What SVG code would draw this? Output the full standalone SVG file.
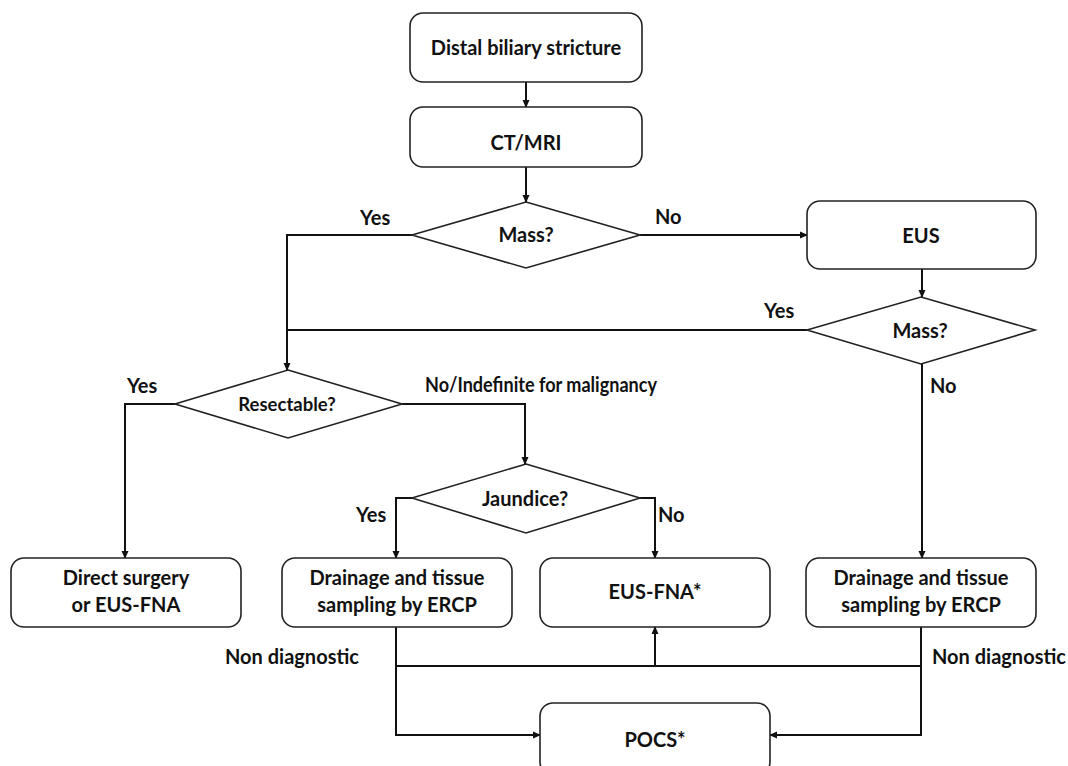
<svg xmlns="http://www.w3.org/2000/svg" width="1068" height="766" viewBox="0 0 1068 766">
<defs>
<marker id="ah" markerWidth="8" markerHeight="8" refX="7" refY="4" orient="auto" markerUnits="userSpaceOnUse">
<path d="M0,0.5 L8,4 L0,7.5 Z" fill="#111"/>
</marker>
<style>
.box{fill:#fff;stroke:#222;stroke-width:1.6}
.dia{fill:#fff;stroke:#222;stroke-width:1.6}
.ln{fill:none;stroke:#111;stroke-width:2}
.arr{fill:none;stroke:#111;stroke-width:2;marker-end:url(#ah)}
text{font-family:"Lato","Liberation Sans",sans-serif;font-weight:bold;font-size:20px;fill:#111}
.c{text-anchor:middle}
</style>
</defs>
<rect width="1068" height="766" fill="#fff"/>
<g id="connectors">
<line class="arr" x1="526" y1="82" x2="526" y2="107"/>
<line class="arr" x1="526" y1="167" x2="526" y2="202"/>
<line class="arr" x1="640" y1="235" x2="807" y2="235"/>
<polyline class="arr" points="412,235 287,235 287,370"/>
<line class="ln" x1="287" y1="330" x2="807" y2="330"/>
<line class="arr" x1="922" y1="269" x2="922" y2="297"/>
<line class="arr" x1="922" y1="364" x2="922" y2="558"/>
<polyline class="arr" points="175,404 125,404 125,558"/>
<polyline class="arr" points="402,404 525,404 525,464"/>
<polyline class="arr" points="412,498 396,498 396,558"/>
<polyline class="arr" points="640,498 655,498 655,558"/>
<polyline class="arr" points="396,627 396,735 540,735"/>
<polyline class="arr" points="921,627 921,735 770,735"/>
<line class="ln" x1="396" y1="666" x2="921" y2="666"/>
<line class="arr" x1="655" y1="666" x2="655" y2="627"/>
</g>
<g id="labels">
<text x="360" y="225">Yes</text>
<text x="655" y="224">No</text>
<text x="764" y="318">Yes</text>
<text x="930" y="393">No</text>
<text x="127" y="393">Yes</text>
<text x="425" y="392" textLength="232" lengthAdjust="spacingAndGlyphs">No/Indefinite for malignancy</text>
<text x="356" y="522">Yes</text>
<text x="658" y="522">No</text>
<text x="225" y="664">Non diagnostic</text>
<text x="932" y="664">Non diagnostic</text>
</g>
<g id="n-distal"><rect class="box" x="410" y="13" width="232" height="69" rx="13"/><text class="c" x="526" y="55">Distal biliary stricture</text></g>
<g id="n-ctmri"><rect class="box" x="410" y="107" width="232" height="60" rx="13"/><text class="c" x="526" y="150">CT/MRI</text></g>
<g id="n-mass1"><polygon class="dia" points="526,202 640,235 526,268 412,235"/><text class="c" x="526" y="242">Mass?</text></g>
<g id="n-eus"><rect class="box" x="807" y="201" width="229" height="68" rx="13"/><text class="c" x="921" y="243">EUS</text></g>
<g id="n-mass2"><polygon class="dia" points="921,297 1035,330 921,364 807,330"/><text class="c" x="920" y="338">Mass?</text></g>
<g id="n-resect"><polygon class="dia" points="288,370 402,404 288,438 175,404"/><text class="c" x="287" y="411" style="font-size:18.5px">Resectable?</text></g>
<g id="n-jaundice"><polygon class="dia" points="526,464 640,498 526,533 412,498"/><text class="c" x="525" y="506">Jaundice?</text></g>
<g id="n-surgery"><rect class="box" x="11" y="558" width="230" height="69" rx="13"/><text class="c" x="126" y="585">Direct surgery</text><text class="c" x="126" y="612">or EUS-FNA</text></g>
<g id="n-drain1"><rect class="box" x="282" y="558" width="230" height="69" rx="13"/><text class="c" x="397" y="585">Drainage and tissue</text><text class="c" x="397" y="612">sampling by ERCP</text></g>
<g id="n-eusfna"><rect class="box" x="540" y="558" width="230" height="69" rx="13"/><text class="c" x="655" y="599">EUS-FNA*</text></g>
<g id="n-drain2"><rect class="box" x="806" y="558" width="230" height="69" rx="13"/><text class="c" x="921" y="585">Drainage and tissue</text><text class="c" x="921" y="612">sampling by ERCP</text></g>
<g id="n-pocs"><rect class="box" x="540" y="703" width="230" height="72" rx="13"/><text class="c" x="655" y="747">POCS*</text></g>
</svg>
